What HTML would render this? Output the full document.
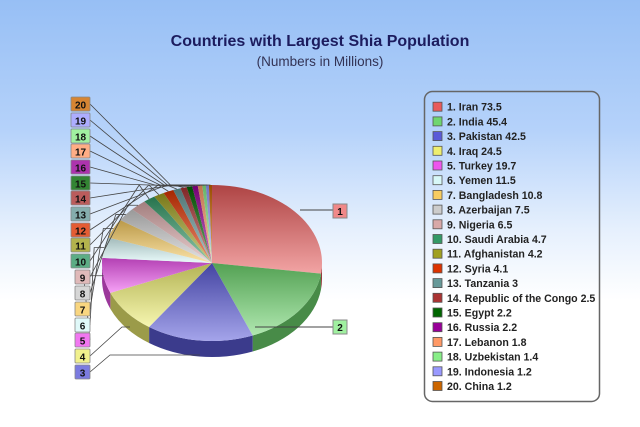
<!DOCTYPE html>
<html><head><meta charset="utf-8">
<style>
html,body{margin:0;padding:0;width:640px;height:427px;overflow:hidden}
body{background:linear-gradient(#97bff5 0px,#b5d2fa 130px,#e6f0fd 230px,#ffffff 300px,#ffffff 427px);font-family:"Liberation Sans",sans-serif}
svg{position:absolute;left:0;top:0}
</style></head><body>
<svg id="s" width="640" height="427" xmlns="http://www.w3.org/2000/svg">
<defs></defs>
<text x="320" y="46" text-anchor="middle" font-size="16" font-weight="bold" fill="#1c1c5e" font-family="Liberation Sans, sans-serif">Countries with Largest Shia Population</text>
<text x="320" y="66" text-anchor="middle" font-size="13.5" fill="#333355" font-family="Liberation Sans, sans-serif">(Numbers in Millions)</text>
<rect x="424.5" y="91.5" width="175" height="310" rx="8" fill="none" stroke="#666" stroke-width="1.5"/>
<g id="pie"></g>
<g id="lg"></g>
</svg>
<script>
var data=[["Iran",73.5,"#e85a5a"],["India",45.4,"#6fd66f"],["Pakistan",42.5,"#5a5ad8"],["Iraq",24.5,"#eeee70"],["Turkey",19.7,"#ee55ee"],["Yemen",11.5,"#d8f8f8"],["Bangladesh",10.8,"#f8cc60"],["Azerbaijan",7.5,"#cccccc"],["Nigeria",6.5,"#d8a8a8"],["Saudi Arabia",4.7,"#339966"],["Afghanistan",4.2,"#a0a020"],["Syria",4.1,"#dd3300"],["Tanzania",3,"#669999"],["Republic of the Congo",2.5,"#aa3333"],["Egypt",2.2,"#006600"],["Russia",2.2,"#990099"],["Lebanon",1.8,"#ff9966"],["Uzbekistan",1.4,"#88ee88"],["Indonesia",1.2,"#9999ff"],["China",1.2,"#cc6600"]];
var NS="http://www.w3.org/2000/svg";
function el(t,a,p){var e=document.createElementNS(NS,t);for(var k in a)e.setAttribute(k,a[k]);(p||document.getElementById("pie")).appendChild(e);return e;}
function shade(c,f){var n=parseInt(c.slice(1),16),r=n>>16,g=(n>>8)&255,b=n&255;function m(v){return Math.max(0,Math.min(255,Math.round(f<0?v*(1+f):v+(255-v)*f)));}return "rgb("+m(r)+","+m(g)+","+m(b)+")";}
var cx=212,cy=263,rx=110,ry=78,d=16,tot=0;data.forEach(function(x){tot+=x[1]});
function pt(a,dy){return [cx+rx*Math.sin(a),cy-ry*Math.cos(a)+(dy||0)];}
var defs=document.querySelector("defs");
var a0=0,sl=[];
data.forEach(function(x,i){var a1=a0+x[1]/tot*2*Math.PI;sl.push([a0,a1]);
 var g=el("linearGradient",{id:"g"+i,x1:0,y1:0,x2:0,y2:1},defs);
 el("stop",{offset:0,"stop-color":shade(x[2],-0.25)},g);el("stop",{offset:1,"stop-color":shade(x[2],0.45)},g);
 a0=a1;});
sl.forEach(function(s,i){var b0=Math.max(s[0],Math.PI/2),b1=Math.min(s[1],1.5*Math.PI);if(b1<=b0)return;
 var p0=pt(b0),p1=pt(b1),q1=pt(b1,d),q0=pt(b0,d);
 el("path",{d:"M"+p0+" A"+rx+" "+ry+" 0 0 1 "+p1+" L"+q1+" A"+rx+" "+ry+" 0 0 0 "+q0+" Z",fill:shade(data[i][2],-0.35)});});
sl.forEach(function(s,i){var p0=pt(s[0]),p1=pt(s[1]);var lg=(s[1]-s[0])>Math.PI?1:0;
 el("path",{d:"M"+cx+","+cy+" L"+p0+" A"+rx+" "+ry+" 0 "+lg+" 1 "+p1+" Z",fill:"url(#g"+i+")"});});
var ly={20:104,19:120,18:136,17:151,16:167,15:183,14:198,13:214,12:230,11:245,10:261,9:277,8:293,7:309,6:325,5:340,4:356,3:372};
for(var n=3;n<=20;n++){var i=n-1,y=ly[n],w=n>=10?19:15,x=90-w;var m=(sl[i][0]+sl[i][1])/2,p=pt(m);
 var pts;
 if(n==3)pts=(x+w)+","+y+" 110,355 200,355";
 else if(n==4)pts=(x+w)+","+y+" 122,327 130,327";
 else{var kx=n>=15?p[0]-40:p[0]-(n<=5?20:10);pts=(x+w)+","+y+" "+kx+","+(n>=10?185:p[1])+" "+p[0]+","+p[1];}
 el("polyline",{points:pts,fill:"none",stroke:"#444","stroke-width":0.8});
 el("rect",{x:x,y:y-7,width:w,height:14,fill:shade(data[i][2],0.2),stroke:"#888","stroke-width":0.8,rx:1});
 var t=el("text",{x:x+w/2,y:y+4.5,"text-anchor":"middle","font-size":10,"font-weight":"bold",fill:"#111"});t.textContent=n;}
el("polyline",{points:"300,210 333,210",fill:"none",stroke:"#444","stroke-width":1});
el("rect",{x:333,y:204,width:14,height:14,fill:"#f08888",stroke:"#888"});
var t=el("text",{x:340,y:215,"text-anchor":"middle","font-size":10,"font-weight":"bold",fill:"#111"});t.textContent="1";
el("polyline",{points:"255,327 333,327",fill:"none",stroke:"#444","stroke-width":1});
el("rect",{x:333,y:320,width:14,height:14,fill:"#a0f0a0",stroke:"#888"});
t=el("text",{x:340,y:331,"text-anchor":"middle","font-size":10,"font-weight":"bold",fill:"#111"});t.textContent="2";
var L=document.getElementById("lg");
data.forEach(function(x,i){var y=106.7+i*14.7;
 el("rect",{x:433,y:y-4.5,width:9,height:9,fill:x[2],stroke:"#555","stroke-width":0.8},L);
 var t=el("text",{x:447,y:y+4,"font-size":10.6,"font-weight":"bold",fill:"#222"},L);t.textContent=(i+1)+". "+x[0]+" "+x[1];});
</script>
</body></html>
